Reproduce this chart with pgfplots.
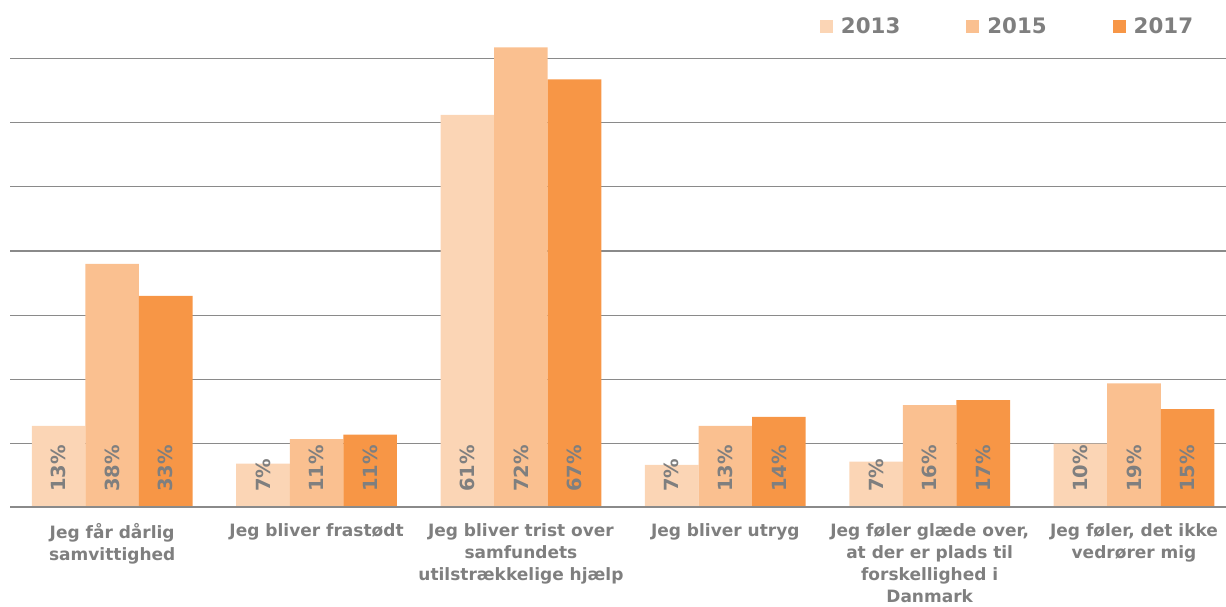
\documentclass[border=0pt]{standalone}
\usepackage{fontspec}
\setmainfont{DejaVu Sans}
\usepackage{pgfplots}
\pgfplotsset{compat=1.18}
\definecolor{c13}{HTML}{FBD5B5}
\definecolor{c15}{HTML}{FAC090}
\definecolor{c17}{HTML}{F79646}
\definecolor{txt}{HTML}{7F7F7F}
\definecolor{gridc}{HTML}{8A8A8A}
\begin{document}
\begin{tikzpicture}
\begin{axis}[
  scale only axis, width=729.6pt, height=281.4pt,
  xmin=-0.5, xmax=5.45, ymin=0, ymax=73,
  axis x line*=bottom, axis y line*=left,
  axis line style={draw=none},
  ytick={10,20,...,70}, yticklabels={},
  ymajorgrids, grid style={gridc, line width=0.8pt},
  major tick length=0pt,
  ybar=0pt, bar width=32.16pt,
  xtick={0,...,5},
  xticklabels={{Jeg får dårlig\\samvittighed},{Jeg bliver frastødt},{Jeg bliver trist over\\samfundets\\utilstrækkelige hjælp},{Jeg bliver utryg},{Jeg føler glæde over,\\at der er plads til\\forskellighed i\\Danmark},{Jeg føler, det ikke\\vedrører mig}},
  xticklabel style={align=center, font=\bfseries\fontsize{10.2}{13.2}\selectfont, text=txt, yshift=-5.6pt},
  /pgf/number format/assume math mode=true,
  nodes near coords={\pgfmathprintnumber[fixed,precision=0]{\pgfplotspointmeta}\%},
  visualization depends on=y \as \rawy,
  every node near coord/.append style={font=\bfseries\fontsize{11.7}{12}\selectfont, text=txt, shift={(axis direction cs:0,-\rawy)}, yshift=9.6pt, rotate=90, anchor=west, inner sep=0pt},
  legend columns=3,
  legend style={at={(axis description cs:0.9765,1.0256)}, anchor=east, draw=none, fill=none, inner sep=0pt,
    font=\bfseries\fontsize{12.8}{14}\selectfont, text=txt,
    /tikz/every even column/.append style={column sep=37.2pt},
    nodes={inner sep=2.4pt}},
  legend cell align=left,
  legend image code/.code={\fill[#1] (0pt,-3.9pt) rectangle (7.8pt,3.9pt); \path (10.2pt,0pt);},
]
\addplot[fill=c13, draw=none] coordinates {(0,12.8) (1,6.9) (2,61.2) (3,6.7) (4,7.2) (5,10.0)};
\addplot[fill=c15, draw=none] coordinates {(0,38.0) (1,10.7) (2,71.7) (3,12.8) (4,16.0) (5,19.4)};
\addplot[fill=c17, draw=none] coordinates {(0,33.0) (1,11.4) (2,66.7) (3,14.2) (4,16.8) (5,15.4)};
\legend{2013,2015,2017}
\draw[gridc, line width=1.8pt] (rel axis cs:0,0) -- (rel axis cs:1,0);
\end{axis}
\pgfresetboundingbox
\path[use as bounding box] ([shift={(-6pt,-59.4pt)}]current axis.south west) rectangle ([shift={(0pt,23.4pt)}]current axis.north east);
\end{tikzpicture}
\end{document}
